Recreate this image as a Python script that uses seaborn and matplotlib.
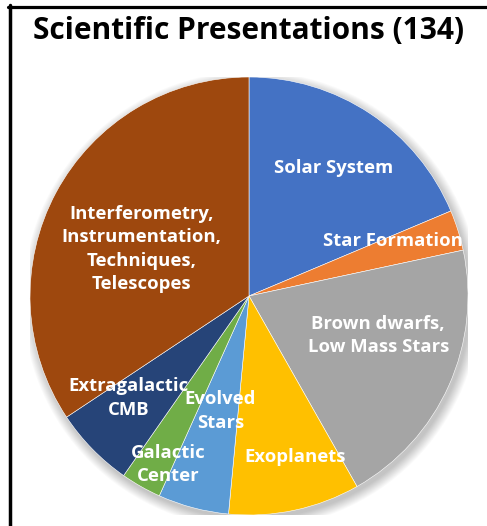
import matplotlib
matplotlib.use("Agg")
import matplotlib.pyplot as plt
import seaborn as sns
from matplotlib.patches import Circle
from matplotlib.lines import Line2D

# data (total 134)
categories = [
    "Solar System",
    "Star Formation",
    "Brown dwarfs,\nLow Mass Stars",
    "Exoplanets",
    "Evolved\nStars",
    "Galactic\nCenter",
    "Extragalactic\nCMB",
    "Interferometry,\nInstrumentation,\nTechniques,\nTelescopes",
]
counts = [25, 4, 27, 13, 7, 4, 8, 46]
colors = ["#4472C4", "#ED7D31", "#A5A5A5", "#FFC000",
          "#5B9BD5", "#70AD47", "#264478", "#9E480E"]
title = "Scientific Presentations (134)"

# label placement inside the pie (data units, radius = 1)
label_xy = [(0.385, 0.585), (0.655, 0.25), (0.59, -0.18), (0.21, -0.735),
            (-0.13, -0.525), (-0.37, -0.77), (-0.55, -0.465), (-0.49, 0.215)]

sns.set_theme(style="white")
plt.rcParams["font.family"] = ["Open Sans", "DejaVu Sans"]

fig = plt.figure(figsize=(4.87, 5.26), dpi=100)
fig.patch.set_facecolor("white")

# pie axes: centre ~ (249, 296) px, radius ~219 px
W, H = 487, 526
cx, cy, r = 249, 296, 219
ax = fig.add_axes([(cx - r) / W, (H - cy - r) / H, 2 * r / W, 2 * r / H])

# soft shadow
for i in range(12):
    ax.add_patch(Circle((0.012, -0.018), 1.0 + i * 0.004, color="black",
                        alpha=0.018, lw=0, zorder=0))

ax.pie(counts, colors=sns.color_palette(colors), startangle=90,
       counterclock=False, radius=1.0,
       wedgeprops=dict(edgecolor="white", linewidth=0.4, zorder=2))

for lab, (x, y) in zip(categories, label_xy):
    ax.text(x, y, lab, ha="center", va="center", color="white",
            fontsize=13.3, fontweight="bold", linespacing=1.4, zorder=5)

ax.set_xlim(-1, 1)
ax.set_ylim(-1, 1)
ax.set_aspect("equal")
ax.axis("off")

fig.text(cx / W, 1 - 31 / H, title, ha="center", va="center",
         fontsize=21.5, fontweight="bold", color="black")

# frame lines (top and left)
fig.add_artist(Line2D([8 / W, 1.0], [1 - 6.5 / H, 1 - 6.5 / H],
                      color="black", lw=2.3, transform=fig.transFigure))
fig.add_artist(Line2D([9.8 / W, 9.8 / W], [1 - 5 / H, 0.0],
                      color="black", lw=2.5, transform=fig.transFigure))

fig.savefig("out.png", dpi=100)
